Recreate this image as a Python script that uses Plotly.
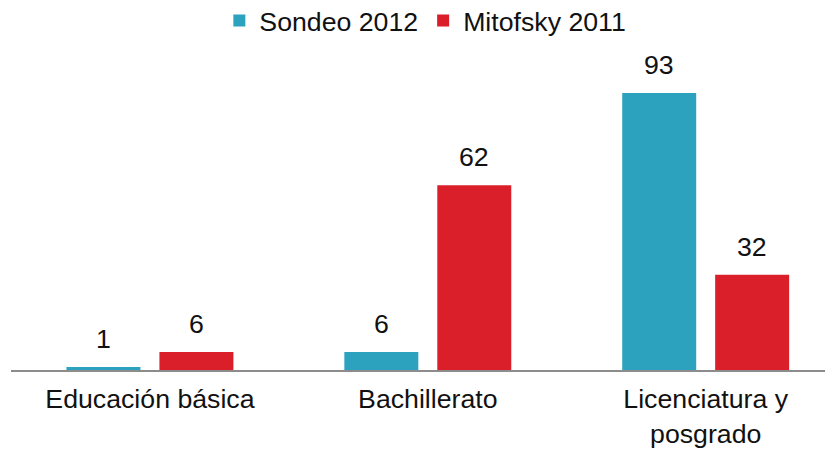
import plotly.graph_objects as go

categories = ["Educación básica", "Bachillerato", "Licenciatura y<br>posgrado"]
sondeo_2012 = [1, 6, 93]
mitofsky_2011 = [6, 62, 32]
series_names = ["Sondeo 2012", "Mitofsky 2011"]
colors = ["#2ca2bf", "#da1f2a"]

FONT = "Liberation Sans, Arial, sans-serif"
FS = 26.7
BAR_OFFSET = 46.5  # px from category center to each bar center

fig = go.Figure()
for name, vals, col in zip(series_names, [sondeo_2012, mitofsky_2011], colors):
    fig.add_trace(go.Bar(
        x=categories, y=vals, name=name, marker=dict(color=col, line=dict(width=0)),
    ))

annotations = []
for sign, vals in zip([-1, 1], [sondeo_2012, mitofsky_2011]):
    for c, v in zip(categories, vals):
        annotations.append(dict(
            x=c, y=v, xref="x", yref="y", text=str(v), showarrow=False,
            xanchor="center", yanchor="bottom", xshift=sign * BAR_OFFSET, yshift=11,
            font=dict(family=FONT, size=FS, color="#111111"),
        ))

fig.update_layout(
    width=833, height=449,
    margin=dict(l=2.5, r=0, t=42, b=87, autoexpand=False),
    paper_bgcolor="white", plot_bgcolor="white",
    barmode="group", bargap=0.331, bargroupgap=0.204,
    font=dict(family=FONT, size=FS, color="#111111"),
    showlegend=True,
    annotations=annotations,
    legend=dict(orientation="h", x=0.501, xanchor="center", xref="container",
                y=0.972, yanchor="middle", yref="container",
                font=dict(family=FONT, size=FS, color="#111111"),
                itemwidth=30, traceorder="normal", bgcolor="rgba(0,0,0,0)"),
    xaxis=dict(range=[-0.5, 2.487], showline=True, linecolor="#8c8c8c", linewidth=2,
               ticks="", showgrid=False, zeroline=False, ticklabelstandoff=4,
               automargin=False,
               tickfont=dict(family=FONT, size=FS, color="#111111")),
    yaxis=dict(range=[0, 107.4], visible=False, showgrid=False, zeroline=False,
               automargin=False),
)

fig.write_html("out.html")
